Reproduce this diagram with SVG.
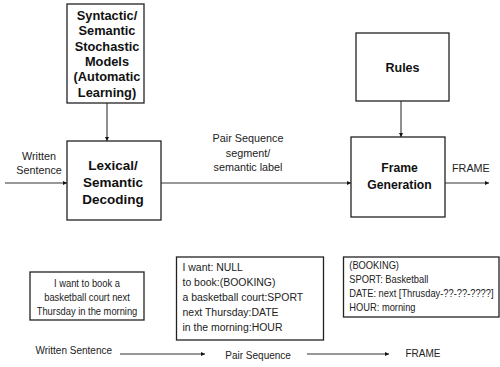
<svg xmlns="http://www.w3.org/2000/svg" width="500" height="367" viewBox="0 0 500 367">
<style>
.box{fill:#fff;stroke:#222;stroke-width:1.3}
.b{font-family:"Liberation Sans",Arial,sans-serif;font-weight:bold;fill:#111;text-anchor:middle}
.t{font-family:"Liberation Sans",Arial,sans-serif;fill:#222}
.c{text-anchor:middle}
.ln{stroke:#333;stroke-width:1.1;fill:none;marker-end:url(#ah)}
</style>
<defs>
<marker id="ah" viewBox="0 0 6 6" refX="6" refY="3" markerWidth="4" markerHeight="4" markerUnits="userSpaceOnUse" orient="auto">
<path d="M0,0 L6,3 L0,6 z" fill="#111"/>
</marker>
</defs>
<rect width="500" height="367" fill="#fff"/>
<g id="connectors">
<line class="ln" x1="107" y1="103" x2="107" y2="141"/>
<line class="ln" x1="5" y1="183" x2="67" y2="183"/>
<line class="ln" x1="161" y1="183" x2="351" y2="183"/>
<line class="ln" x1="401" y1="101" x2="401" y2="137"/>
<line class="ln" x1="445" y1="183" x2="489" y2="183"/>
<line class="ln" x1="120" y1="354" x2="205" y2="354"/>
<line class="ln" x1="307" y1="354" x2="389" y2="354"/>
</g>
<g id="models">
<rect class="box" x="67" y="4" width="77" height="99"/>
<text class="b" font-size="12.8" x="107" y="20">Syntactic/</text>
<text class="b" font-size="12.8" x="107" y="35.3">Semantic</text>
<text class="b" font-size="12.8" x="107" y="50.6">Stochastic</text>
<text class="b" font-size="12.8" x="107" y="65.9">Models</text>
<text class="b" font-size="12.8" x="107" y="81.2">(Automatic</text>
<text class="b" font-size="12.8" x="107" y="96.5">Learning)</text>
</g>
<g id="decoding">
<rect class="box" x="67" y="141" width="94" height="79"/>
<text class="b" font-size="13.5" x="113" y="169.5">Lexical/</text>
<text class="b" font-size="13.5" x="113" y="186.5">Semantic</text>
<text class="b" font-size="13.5" x="113" y="203.5">Decoding</text>
</g>
<g id="rules">
<rect class="box" x="356" y="33" width="93" height="68"/>
<text class="b" font-size="12.5" x="402.5" y="72">Rules</text>
</g>
<g id="frame">
<rect class="box" x="351" y="137" width="94" height="80"/>
<text class="b" font-size="12.2" x="399.5" y="171.5">Frame</text>
<text class="b" font-size="12.2" x="399.5" y="188.5">Generation</text>
</g>
<g id="labels">
<text class="t c" font-size="10.8" x="39" y="159.5">Written</text>
<text class="t c" font-size="10.8" x="39" y="174">Sentence</text>
<text class="t c" font-size="10.8" x="248" y="142">Pair Sequence</text>
<text class="t c" font-size="10.8" x="248" y="156.5">segment/</text>
<text class="t c" font-size="10.8" x="248" y="171">semantic label</text>
<text class="t" font-size="10.8" x="452" y="172">FRAME</text>
<text class="t" font-size="10" x="35.5" y="354">Written Sentence</text>
<text class="t" font-size="10" x="225.3" y="358.5">Pair Sequence</text>
<text class="t" font-size="10" x="405.5" y="357">FRAME</text>
</g>
<g id="sentence">
<rect class="box" x="30" y="272" width="114" height="48"/>
<g transform="translate(87,0) scale(0.85,1)">
<text class="t c" font-size="11" x="0" y="287">I want to book a</text>
<text class="t c" font-size="11" x="0" y="301.5">basketball court next</text>
<text class="t c" font-size="11" x="0" y="315.5">Thursday in the morning</text>
</g>
</g>
<g id="pairs">
<rect class="box" x="176.5" y="257" width="147" height="83"/>
<g transform="translate(182.5,0) scale(0.91,1)">
<text class="t" font-size="11.5" x="0" y="271.5">I want: NULL</text>
<text class="t" font-size="11.5" x="0" y="286.5">to book:(BOOKING)</text>
<text class="t" font-size="11.5" x="0" y="301.5">a basketball court:SPORT</text>
<text class="t" font-size="11.5" x="0" y="316.5">next Thursday:DATE</text>
<text class="t" font-size="11.5" x="0" y="331.5">in the morning:HOUR</text>
</g>
</g>
<g id="frameout">
<rect class="box" x="343.5" y="257" width="155.5" height="60"/>
<g transform="translate(349.3,0) scale(0.88,1)">
<text class="t" font-size="10.6" x="0" y="269.5">(BOOKING)</text>
<text class="t" font-size="10.6" x="0" y="283.5">SPORT: Basketball</text>
<text class="t" font-size="10.6" x="0" y="297.5">DATE: next [Thrusday-??-??-????]</text>
<text class="t" font-size="10.6" x="0" y="311.5">HOUR: morning</text>
</g>
</g>
</svg>
